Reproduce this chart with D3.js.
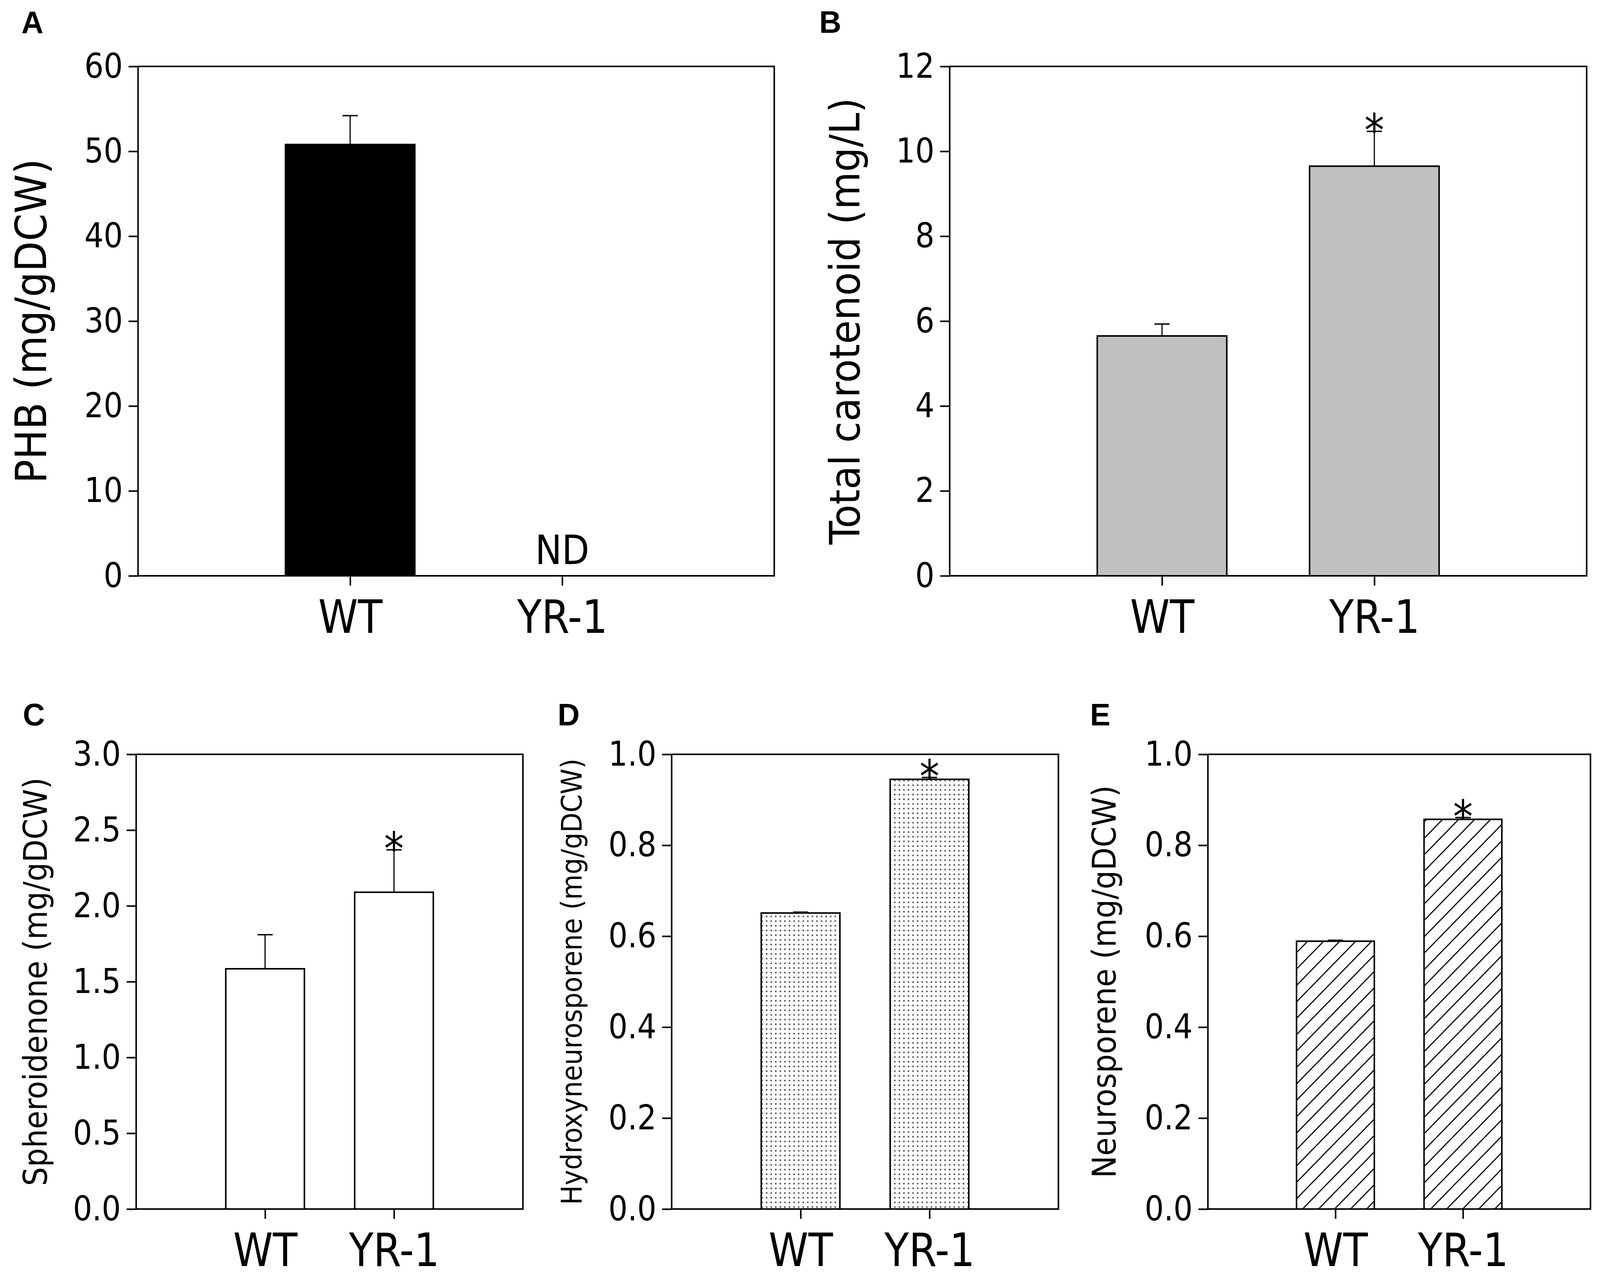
<!DOCTYPE html>
<html>
<head>
<meta charset="utf-8">
<script src="https://cdn.jsdelivr.net/npm/d3@7"></script>
<style>
  html, body { margin: 0; padding: 0; background: #fff; overflow: hidden; }
  svg { display: block; width: 100vw; height: 100vh; }
  text { font-family: "DejaVu Sans Condensed", "DejaVu Sans", sans-serif; font-stretch: condensed; }
</style>
</head>
<body>
<svg id="fig" viewBox="0 0 4195 3269" preserveAspectRatio="none"></svg>
<script>
// категории и значения по панелям
const categories = ["WT", "YR-1"];

const phb = [50.8, 0];
const phbErr = [3.4, 0];
const phbMarks = ["", "ND"];

const carotenoid = [5.65, 9.65];
const carotenoidErr = [0.28, 0.82];
const carotenoidMarks = ["", "*"];

const spheroidenone = [1.585, 2.09];
const spheroidenoneErr = [0.225, 0.28];

const hydroxy = [0.651, 0.945];
const hydroxyErr = [0.002, 0.004];

const neurosporene = [0.589, 0.857];
const neurosporeneErr = [0.002, 0.004];

const starMarks = ["", "*"];

const phbTicks = [0, 10, 20, 30, 40, 50, 60];
const carotenoidTicks = [0, 2, 4, 6, 8, 10, 12];
const spheroTicks = [0, 0.5, 1.0, 1.5, 2.0, 2.5, 3.0];
const fracTicks = [0, 0.2, 0.4, 0.6, 0.8, 1.0];

const svg = d3.select("#fig");
svg.append("rect").attr("width", 4195).attr("height", 3269).attr("fill", "#fff");

// штриховки для D и E
const defs = svg.append("defs");
const dots = defs.append("pattern")
    .attr("id", "dots")
    .attr("patternUnits", "userSpaceOnUse")
    .attr("width", 12).attr("height", 12);
dots.append("rect").attr("width", 12).attr("height", 12).attr("fill", "#fff");
dots.append("circle").attr("cx", 6).attr("cy", 6).attr("r", 2.3).attr("fill", "#555");

const hatch = defs.append("pattern")
    .attr("id", "hatch")
    .attr("patternUnits", "userSpaceOnUse")
    .attr("width", 42).attr("height", 42);
hatch.append("rect").attr("width", 42).attr("height", 42).attr("fill", "#fff");
hatch.append("path")
    .attr("d", "M-10,10 L10,-10 M0,42 L42,0 M32,52 L52,32")
    .attr("stroke", "#000")
    .attr("stroke-width", 3);

function drawPanel(p) {
    const g = svg.append("g");
    const w = p.right - p.left;
    const h = p.bottom - p.top;

    const x = d3.scalePoint()
        .domain(categories)
        .range([p.left, p.right])
        .padding(1);
    const y = d3.scaleLinear()
        .domain([0, p.max])
        .range([p.bottom, p.top]);
    const bw = x.step() * 0.61;

    const rows = categories.map((c, i) => ({c, v: p.values[i], e: p.errors[i], m: p.marks[i]}));

    // бары
    g.selectAll(".bar")
        .data(rows.filter(d => d.v > 0))
        .join("rect")
        .attr("class", "bar")
        .attr("x", d => x(d.c) - bw / 2)
        .attr("y", d => y(d.v))
        .attr("width", bw)
        .attr("height", d => y(0) - y(d.v))
        .attr("fill", p.fill)
        .attr("stroke", "#000")
        .attr("stroke-width", 4);

    // планки погрешностей (только вверх)
    rows.filter(d => d.v > 0).forEach(d => {
        g.append("line")
            .attr("x1", x(d.c)).attr("x2", x(d.c))
            .attr("y1", y(d.v)).attr("y2", y(d.v + d.e))
            .attr("stroke", "#000").attr("stroke-width", 3);
        g.append("line")
            .attr("x1", x(d.c) - 20).attr("x2", x(d.c) + 20)
            .attr("y1", y(d.v + d.e)).attr("y2", y(d.v + d.e))
            .attr("stroke", "#000").attr("stroke-width", 3.5);
    });

    // звездочки и ND
    rows.forEach(d => {
        if (d.m === "*") {
            g.append("text")
                .attr("x", x(d.c))
                .attr("y", y(d.v + d.e) + 38)
                .attr("text-anchor", "middle")
                .attr("font-size", 115)
                .text("*");
        } else if (d.m === "ND") {
            g.append("text")
                .attr("x", x(d.c))
                .attr("y", y(0) - 30)
                .attr("text-anchor", "middle")
                .attr("font-size", 104)
                .text("ND");
        }
    });

    // рамка
    g.append("rect")
        .attr("x", p.left).attr("y", p.top)
        .attr("width", w).attr("height", h)
        .attr("fill", "none")
        .attr("stroke", "#000")
        .attr("stroke-width", 4);

    const yAxis = g.append("g")
        .attr("transform", `translate(${p.left},0)`)
        .call(d3.axisLeft(y).tickValues(p.ticks).tickFormat(d3.format(p.fmt))
            .tickSize(25).tickSizeOuter(0).tickPadding(15));
    yAxis.select(".domain").remove();
    yAxis.selectAll("line").attr("stroke", "#000").attr("stroke-width", 4);
    yAxis.selectAll("text")
        .attr("font-size", 88)
        .attr("fill", "#000");

    const xAxis = g.append("g")
        .attr("transform", `translate(0,${p.bottom})`)
        .call(d3.axisBottom(x).tickSize(25).tickSizeOuter(0).tickPadding(38));
    xAxis.select(".domain").remove();
    xAxis.selectAll("line").attr("stroke", "#000").attr("stroke-width", 4);
    xAxis.selectAll("text")
        .attr("font-size", 117)
        .attr("fill", "#000");
    g.selectAll(".tick text").attr("font-family", null);

    // подпись оси Y
    g.append("text")
        .attr("transform", `translate(${p.titleX},${(p.top + p.bottom) / 2}) rotate(-90)`)
        .attr("text-anchor", "middle")
        .attr("font-size", p.titleSize)
        .text(p.title);

    // буква панели
    g.append("text")
        .attr("x", p.labelX).attr("y", p.labelY)
        .attr("font-size", 80)
        .attr("font-weight", "bold")
        .style("font-family", "'Liberation Sans', Arial, sans-serif")
        .style("font-stretch", "normal")
        .text(p.label);
}

drawPanel({
    label: "A", labelX: 56, labelY: 85,
    left: 362, right: 2030, top: 170, bottom: 1474,
    max: 60, ticks: phbTicks, fmt: "d",
    values: phb, errors: phbErr, marks: phbMarks,
    fill: "#000",
    title: "PHB (mg/gDCW)", titleX: 121, titleSize: 113
});

drawPanel({
    label: "B", labelX: 2148, labelY: 84,
    left: 2490, right: 4160, top: 170, bottom: 1474,
    max: 12, ticks: carotenoidTicks, fmt: "d",
    values: carotenoid, errors: carotenoidErr, marks: carotenoidMarks,
    fill: "#c0c0c0",
    title: "Total carotenoid (mg/L)", titleX: 2253, titleSize: 110
});

drawPanel({
    label: "C", labelX: 60, labelY: 1857,
    left: 357, right: 1371, top: 1931, bottom: 3095,
    max: 3, ticks: spheroTicks, fmt: ".1f",
    values: spheroidenone, errors: spheroidenoneErr, marks: starMarks,
    fill: "#fff",
    title: "Spheroidenone (mg/gDCW)", titleX: 123, titleSize: 85
});

drawPanel({
    label: "D", labelX: 1462, labelY: 1857,
    left: 1761, right: 2775, top: 1931, bottom: 3095,
    max: 1, ticks: fracTicks, fmt: ".1f",
    values: hydroxy, errors: hydroxyErr, marks: starMarks,
    fill: "url(#dots)",
    title: "Hydroxyneurosporene (mg/gDCW)", titleX: 1525, titleSize: 74
});

drawPanel({
    label: "E", labelX: 2858, labelY: 1857,
    left: 3167, right: 4170, top: 1931, bottom: 3095,
    max: 1, ticks: fracTicks, fmt: ".1f",
    values: neurosporene, errors: neurosporeneErr, marks: starMarks,
    fill: "url(#hatch)",
    title: "Neurosporene (mg/gDCW)", titleX: 2925, titleSize: 85
});
</script>
</body>
</html>
